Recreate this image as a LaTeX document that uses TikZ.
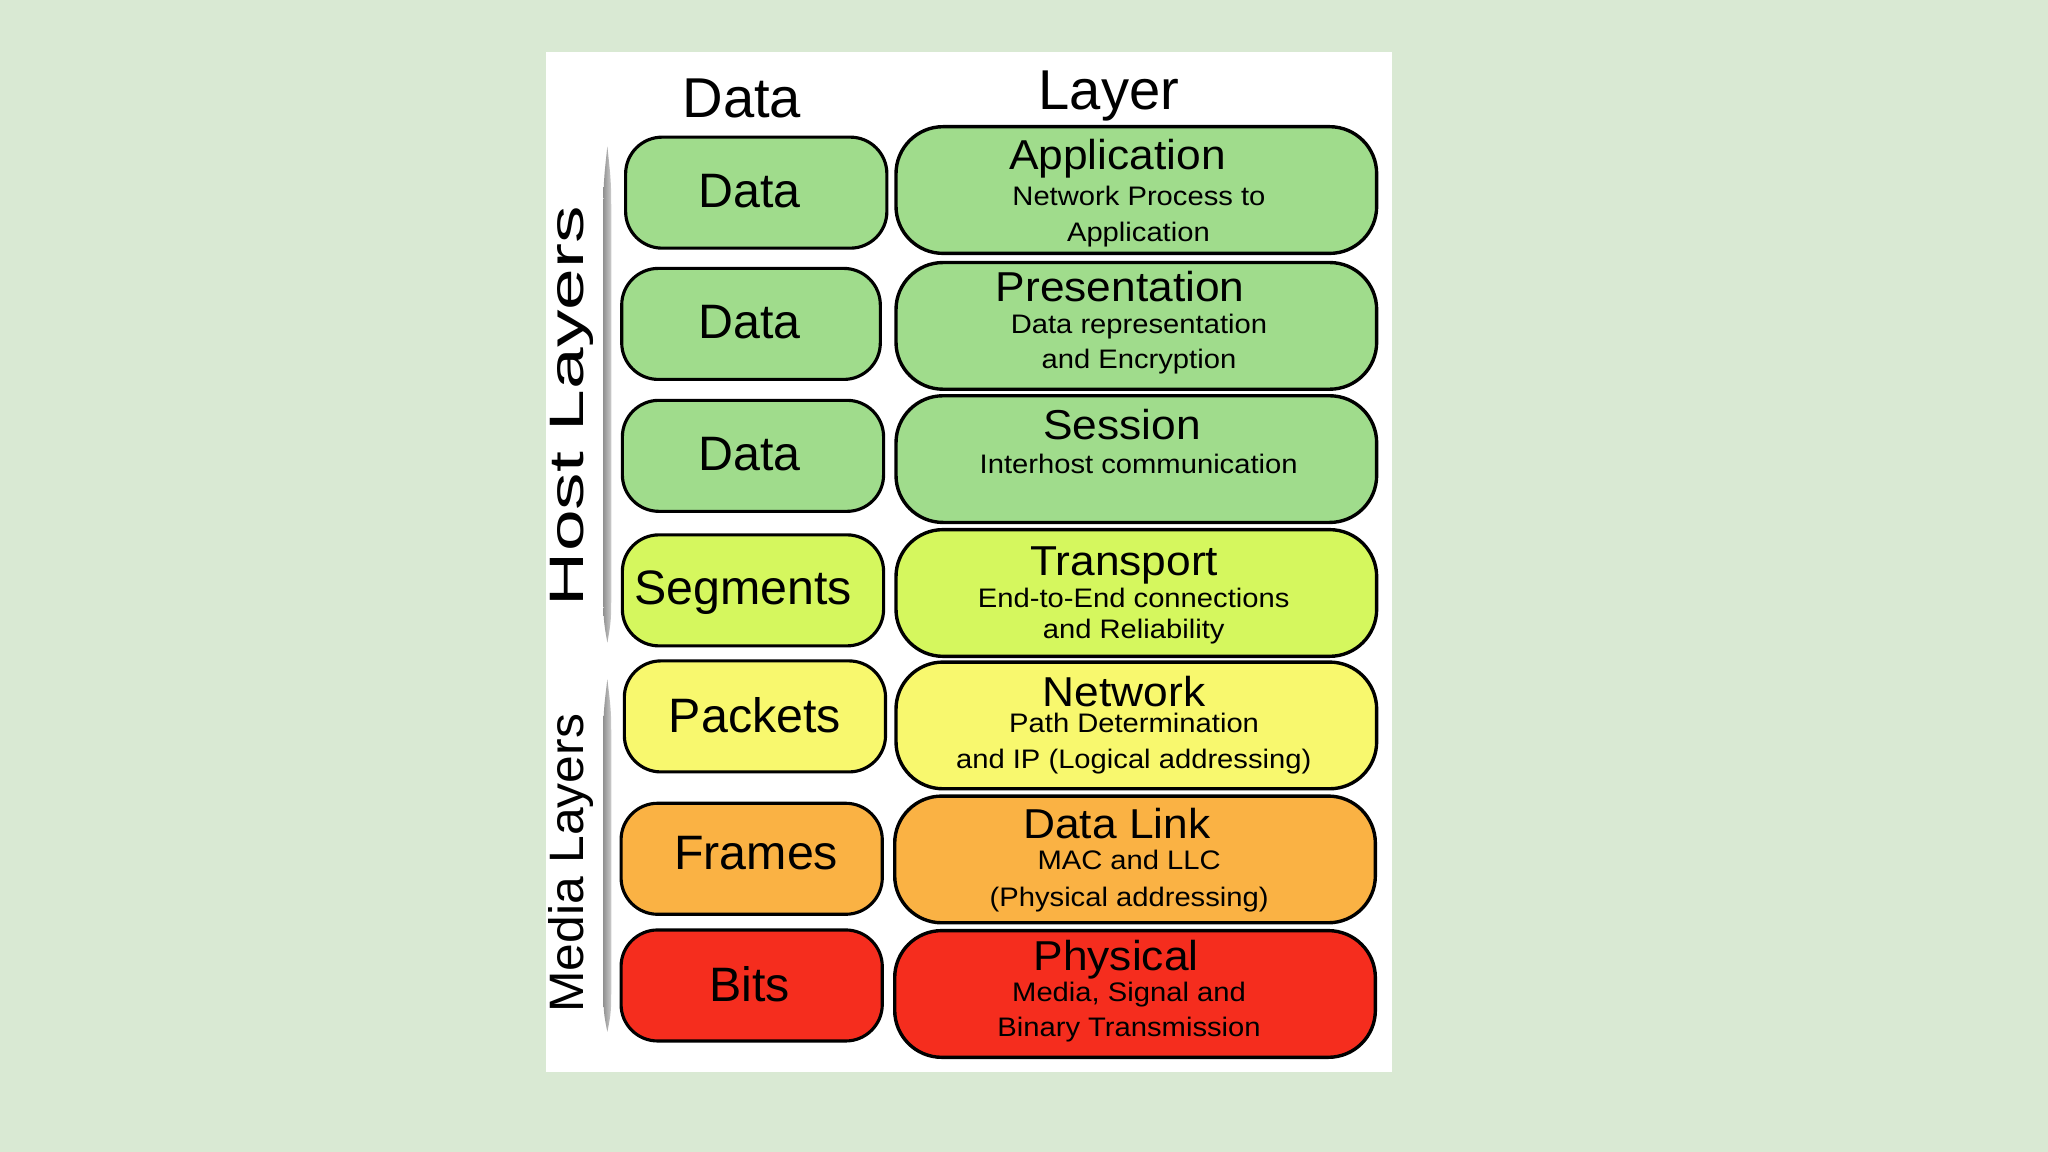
\documentclass[tikz,border=0pt]{standalone}
\usepackage{fontspec}
\setmainfont{Liberation Sans}
\definecolor{bgc}{HTML}{D9E9D3}
\definecolor{cgreen}{HTML}{A0DC8C}
\definecolor{clime}{HTML}{D5F75E}
\definecolor{cyel}{HTML}{F8F86E}
\definecolor{corange}{HTML}{FAB244}
\definecolor{cred}{HTML}{F52D1E}
\begin{document}
\begin{tikzpicture}[x=1pt,y=-1pt,
  lbox/.style={draw=black, line width=2.4pt, rounded corners=28pt, minimum width=200pt, minimum height=85pt, inner sep=0pt},
  rbox/.style={draw=black, line width=2.6pt, rounded corners=36pt, minimum width=368pt, minimum height=97pt, inner sep=0pt},
  ttl/.style={anchor=base, font=\fontsize{32}{32}\selectfont, xscale=1.06, inner sep=0pt},
  sub/.style={anchor=base, font=\fontsize{20.5}{20.5}\selectfont, xscale=1.09, inner sep=0pt},
  lab/.style={anchor=base, font=\fontsize{37}{37}\selectfont, inner sep=0pt},
  hdr/.style={anchor=base, font=\fontsize{43}{43}\selectfont, inner sep=0pt},
  side/.style={rotate=90, anchor=center, inner sep=0pt, font=\fontsize{37}{37}\selectfont},
  bar/.style={left color=gray!85, right color=gray!40}
]
\useasboundingbox (0,0) rectangle (1568,882);
\fill[bgc] (0,0) rectangle (1568,882);
\fill[white] (418,40) rectangle (1066,821);

% headers
\node[hdr] (hdata) at (568,90) {Data};
\node[hdr] (hlayer) at (849,84) {Layer};

% side labels and bars
\node[side, xscale=1.55] (host) at (437.5,311) {Host Layers};
\node[side, xscale=1.03] (media) at (437.5,661) {Media Layers};
\shade[bar] (465,112) .. controls (468,140) .. (468,170) -- (468,450) .. controls (468,475) .. (465,492)
  .. controls (462,475) .. (462,450) -- (462,170) .. controls (462,140) .. cycle;
\shade[bar] (465,520) .. controls (468,545) .. (468,570) -- (468,750) .. controls (468,775) .. (465,790)
  .. controls (462,775) .. (462,750) -- (462,570) .. controls (462,545) .. cycle;

% left column boxes
\node[lbox, fill=cgreen] (d1) at (579,147.5) {};
\node[lbox, fill=cgreen, minimum width=198pt] (d2) at (575,248) {};
\node[lbox, fill=cgreen] (d3) at (576.5,349) {};
\node[lbox, fill=clime] (d4) at (576.5,452) {};
\node[lbox, fill=cyel] (d5) at (578,548.5) {};
\node[lbox, fill=corange] (d6) at (575.5,657.5) {};
\node[lbox, fill=cred] (d7) at (575.5,754.5) {};

\node[lab] (d1t) at (574,159) {Data};
\node[lab] (d2t) at (574,259) {Data};
\node[lab] (d3t) at (574,360) {Data};
\node[lab] (d4t) at (569,463) {Segments};
\node[lab] (d5t) at (578,561) {Packets};
\node[lab] (d6t) at (579,666) {Frames};
\node[lab] (d7t) at (574,767) {Bits};

% right column boxes
\node[rbox, fill=cgreen] (l7) at (870,145.5) {};
\node[rbox, fill=cgreen] (l6) at (870,249.5) {};
\node[rbox, fill=cgreen] (l5) at (870,351.5) {};
\node[rbox, fill=clime] (l4) at (870,454) {};
\node[rbox, fill=cyel] (l3) at (870,555.4) {};
\node[rbox, fill=corange] (l2) at (869,658) {};
\node[rbox, fill=cred] (l1) at (869,761) {};

\node[ttl] (l7t) at (855.5,130) {Application};
\node[sub] (l7a) at (872,157.5) {Network Process to};
\node[sub] (l7b) at (871.6,185) {Application};

\node[ttl] (l6t) at (857.6,231) {Presentation};
\node[sub] (l6a) at (872,255) {Data representation};
\node[sub] (l6b) at (872,282) {and Encryption};

\node[ttl] (l5t) at (859,336.4) {Session};
\node[sub] (l5a) at (871.8,362.4) {Interhost communication};

\node[ttl] (l4t) at (860.8,440.3) {Transport};
\node[sub] (l4a) at (868,465.3) {End-to-End connections};
\node[sub] (l4b) at (868,488.8) {and Reliability};

\node[ttl] (l3t) at (860.7,541) {Network};
\node[sub] (l3a) at (868.3,561) {Path Determination};
\node[sub] (l3b) at (868,588.3) {and IP (Logical addressing)};

\node[ttl] (l2t) at (855,641.9) {Data Link};
\node[sub] (l2a) at (864.5,666) {MAC and LLC};
\node[sub] (l2b) at (864.5,694) {(Physical addressing)};

\node[ttl] (l1t) at (854.5,742.7) {Physical};
\node[sub] (l1a) at (864.4,767) {Media, Signal and};
\node[sub] (l1b) at (864.4,793.8) {Binary Transmission};
\end{tikzpicture}
\end{document}
